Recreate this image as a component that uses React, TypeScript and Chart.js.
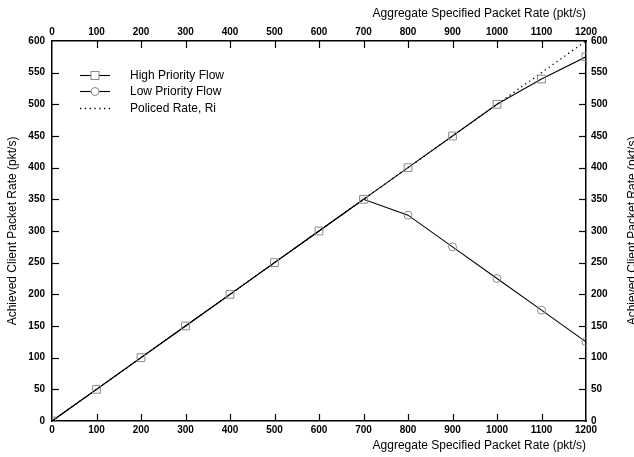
import React, { useEffect, useRef } from "react";
import { Chart, registerables } from "chart.js";

Chart.register(...registerables);

const rates = [0, 100, 200, 300, 400, 500, 600, 700, 800, 900, 1000, 1100, 1200];
const highPriority = [0, 50, 100, 150, 200, 250, 300, 350, 400, 450, 500, 540, 575];
const lowPriority = [0, 50, 100, 150, 200, 250, 300, 350, 325, 275, 225, 175, 125];
const policedX = [0, 1200];
const policedY = [0, 600];
const lowMarkerFrom = 8; // circles visible from 800 pkt/s onward

const xTitle = "Aggregate Specified Packet Rate (pkt/s)";
const yTitle = "Achieved Client Packet Rate (pkt/s)";
const legendLabels = ["High Priority Flow", "Low Priority Flow", "Policed Rate, Ri"];

const FONT = "'Liberation Sans', Arial, Helvetica, sans-serif";
const MARK = "#8a8a8a";

const plain = (v: any) => String(v);

const overlay = {
  id: "overlay",
  afterDatasetsDraw(chart: any) {
    const ctx = chart.ctx;
    const ca = chart.chartArea;
    const s = chart.scales;
    const TL = 7;
    ctx.save();
    ctx.strokeStyle = "#000";
    ctx.lineWidth = 1.2;
    for (const id of ["x", "x2"]) {
      const sc = s[id];
      sc.ticks.forEach((t: any) => {
        if (t.value <= sc.min || t.value >= sc.max) return;
        const px = Math.round(sc.getPixelForValue(t.value)) + 0.5;
        ctx.beginPath();
        if (id === "x") {
          ctx.moveTo(px, ca.bottom);
          ctx.lineTo(px, ca.bottom - TL);
        } else {
          ctx.moveTo(px, ca.top);
          ctx.lineTo(px, ca.top + TL);
        }
        ctx.stroke();
      });
    }
    for (const id of ["y", "y2"]) {
      const sc = s[id];
      sc.ticks.forEach((t: any) => {
        if (t.value <= sc.min || t.value >= sc.max) return;
        const py = Math.round(sc.getPixelForValue(t.value)) + 0.5;
        ctx.beginPath();
        if (id === "y") {
          ctx.moveTo(ca.left, py);
          ctx.lineTo(ca.left + TL, py);
        } else {
          ctx.moveTo(ca.right, py);
          ctx.lineTo(ca.right - TL, py);
        }
        ctx.stroke();
      });
    }
    ctx.font = `12px ${FONT}`;
    ctx.textBaseline = "middle";
    ctx.textAlign = "left";
    chart.data.datasets.forEach((ds: any, i: number) => {
      const y = Math.round(75 + i * 16.3) + 0.5;
      ctx.save();
      ctx.strokeStyle = "#000";
      ctx.lineWidth = ds.borderWidth || 1;
      ctx.setLineDash(ds.borderDash || []);
      ctx.beginPath();
      ctx.moveTo(80, y);
      ctx.lineTo(110, y);
      ctx.stroke();
      ctx.setLineDash([]);
      ctx.lineWidth = 1;
      ctx.strokeStyle = MARK;
      if (ds.pointStyle === "rect") {
        ctx.fillStyle = "#fff";
        ctx.fillRect(91, y - 4, 8, 8);
        ctx.strokeRect(91, y - 4, 8, 8);
      } else if (ds.pointStyle === "circle") {
        ctx.fillStyle = "#fff";
        ctx.beginPath();
        ctx.arc(95, y, 4, 0, Math.PI * 2);
        ctx.fill();
        ctx.stroke();
      }
      ctx.restore();
      ctx.fillStyle = "#000";
      ctx.fillText(legendLabels[i], 130, y);
    });
    ctx.save();
    ctx.translate(633, (ca.top + ca.bottom) / 2);
    ctx.rotate(-Math.PI / 2);
    ctx.textAlign = "center";
    ctx.fillStyle = "#000";
    ctx.font = `12px ${FONT}`;
    ctx.fillText(yTitle, 0, 0);
    ctx.restore();
    ctx.restore();
  },
};

export default function App() {
  const ref = useRef<HTMLCanvasElement | null>(null);
  useEffect(() => {
    if (!ref.current) return;
    Chart.defaults.font.family = FONT;
    const tickFont = { size: 10, weight: "bold" as const, family: FONT };
    const titleFont = { size: 12, family: FONT };
    const border = { display: true, color: "#000", width: 1.5 };
    const chart = new Chart(ref.current, {
      type: "line",
      data: {
        datasets: [
          {
            label: legendLabels[0],
            data: rates.map((x, i) => ({ x, y: highPriority[i] })),
            borderColor: "#000",
            borderWidth: 1.1,
            pointStyle: "rect",
            pointRadius: 5.5,
            pointBorderColor: MARK,
            pointBackgroundColor: "rgba(0,0,0,0)",
            pointBorderWidth: 1,
            xAxisID: "x",
            yAxisID: "y",
          },
          {
            label: legendLabels[1],
            data: rates.map((x, i) => ({ x, y: lowPriority[i] })),
            borderColor: "#000",
            borderWidth: 1.1,
            pointStyle: "circle",
            pointRadius: rates.map((_, i) => (i >= lowMarkerFrom ? 4 : 0)),
            pointBorderColor: MARK,
            pointBackgroundColor: "rgba(0,0,0,0)",
            pointBorderWidth: 1,
            xAxisID: "x",
            yAxisID: "y",
          },
          {
            label: legendLabels[2],
            data: policedX.map((x, i) => ({ x, y: policedY[i] })),
            borderColor: "#000",
            borderWidth: 1.3,
            borderDash: [1.3, 3.5],
            pointRadius: 0,
            xAxisID: "x",
            yAxisID: "y",
          },
        ],
      },
      options: {
        animation: false,
        responsive: false,
        maintainAspectRatio: false,
        layout: { padding: 0 },
        plugins: { legend: { display: false }, tooltip: { enabled: false } },
        scales: {
          x: {
            type: "linear",
            position: "bottom",
            min: 0,
            max: 1200,
            ticks: { stepSize: 100, font: tickFont, color: "#000", padding: 3, maxRotation: 0, autoSkip: false, callback: plain },
            grid: { display: false, drawTicks: false },
            border,
            title: { display: true, text: xTitle, align: "end", font: titleFont, color: "#000", padding: { top: 0, bottom: 4 } },
            afterFit(sc: any) { sc.height = 36; },
          },
          x2: {
            type: "linear",
            position: "top",
            min: 0,
            max: 1200,
            ticks: { stepSize: 100, font: tickFont, color: "#000", padding: 3, maxRotation: 0, autoSkip: false, callback: plain },
            grid: { display: false, drawTicks: false },
            border,
            title: { display: true, text: xTitle, align: "end", font: titleFont, color: "#000", padding: { top: 6, bottom: 0 } },
            afterFit(sc: any) { sc.height = 41; },
          },
          y: {
            type: "linear",
            position: "left",
            min: 0,
            max: 600,
            ticks: { stepSize: 50, font: tickFont, color: "#000", padding: 7, autoSkip: false, callback: plain },
            grid: { display: false, drawTicks: false },
            border,
            title: { display: true, text: yTitle, font: titleFont, color: "#000", padding: { top: 5, bottom: 0 } },
            afterFit(sc: any) { sc.width = 52; },
          },
          y2: {
            type: "linear",
            position: "right",
            min: 0,
            max: 600,
            ticks: { stepSize: 50, font: tickFont, color: "#000", padding: 5, autoSkip: false, callback: plain },
            grid: { display: false, drawTicks: false },
            border,
            afterFit(sc: any) { sc.width = 48; },
          },
        },
      } as any,
      plugins: [overlay],
    });
    return () => chart.destroy();
  }, []);
  return (
    <div style={{ position: "fixed", left: 0, top: 0, width: 634, height: 457, background: "#fff" }}>
      <canvas ref={ref} width={634} height={457} style={{ width: 634, height: 457, display: "block" }} />
    </div>
  );
}
